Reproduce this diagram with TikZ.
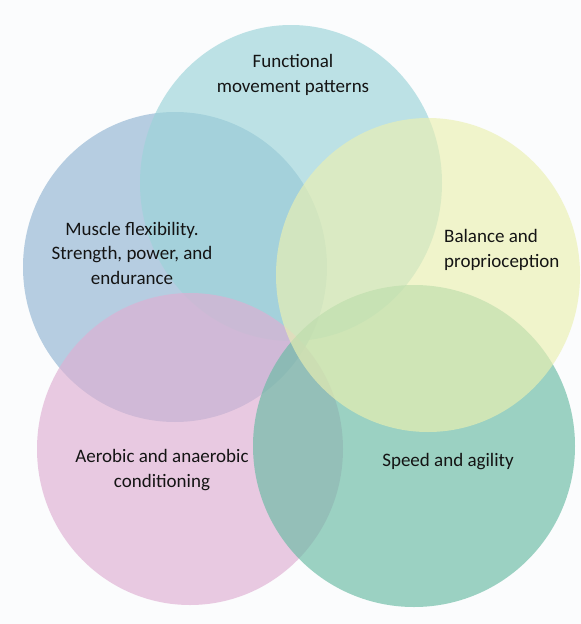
\documentclass[tikz,border=0pt]{standalone}
\usepackage{fontspec}
\setmainfont{Carlito}
\definecolor{bgc}{RGB}{251,252,253}
\definecolor{tealc}{RGB}{155,212,217}
\definecolor{bluec}{RGB}{146,181,210}
\definecolor{yellowc}{RGB}{235,240,177}
\definecolor{pinkc}{RGB}{223,175,210}
\definecolor{greenc}{RGB}{104,187,163}
\definecolor{txtc}{RGB}{20,20,20}
\begin{document}
\begin{tikzpicture}[x=1pt,y=-1pt,
  blob/.style={fill opacity=0.65, draw=none},
  lbl/.style={font=\fontsize{19}{24.5}\selectfont, text=txtc, inner sep=0pt, align=center}]
\fill[bgc] (0,0) rectangle (581,624);
\useasboundingbox (0,0) rectangle (581,624);
% circles
\fill[blob, fill=bluec]   (175,267) ellipse [x radius=152, y radius=155];
\fill[blob, fill=tealc]   (291,183) ellipse [x radius=151, y radius=158];
\fill[blob, fill=pinkc]   (190,449) ellipse [x radius=153, y radius=156];
\fill[blob, fill=greenc]  (414,446) ellipse [x radius=161, y radius=161];
\fill[blob, fill=yellowc] (428,275) ellipse [x radius=152, y radius=157];
% labels
\node[lbl] (fmp) at (293,75) {Functional\\movement patterns};
\node[lbl] (msf) at (132,253) {Muscle flexibility.\\Strength, power, and\\endurance};
\node[lbl, align=left, anchor=west] (bal) at (444,250) {Balance and\\proprioception};
\node[lbl] (aer) at (162,470) {Aerobic and anaerobic\\conditioning};
\node[lbl] (spd) at (448,462) {Speed and agility};
\end{tikzpicture}
\end{document}
